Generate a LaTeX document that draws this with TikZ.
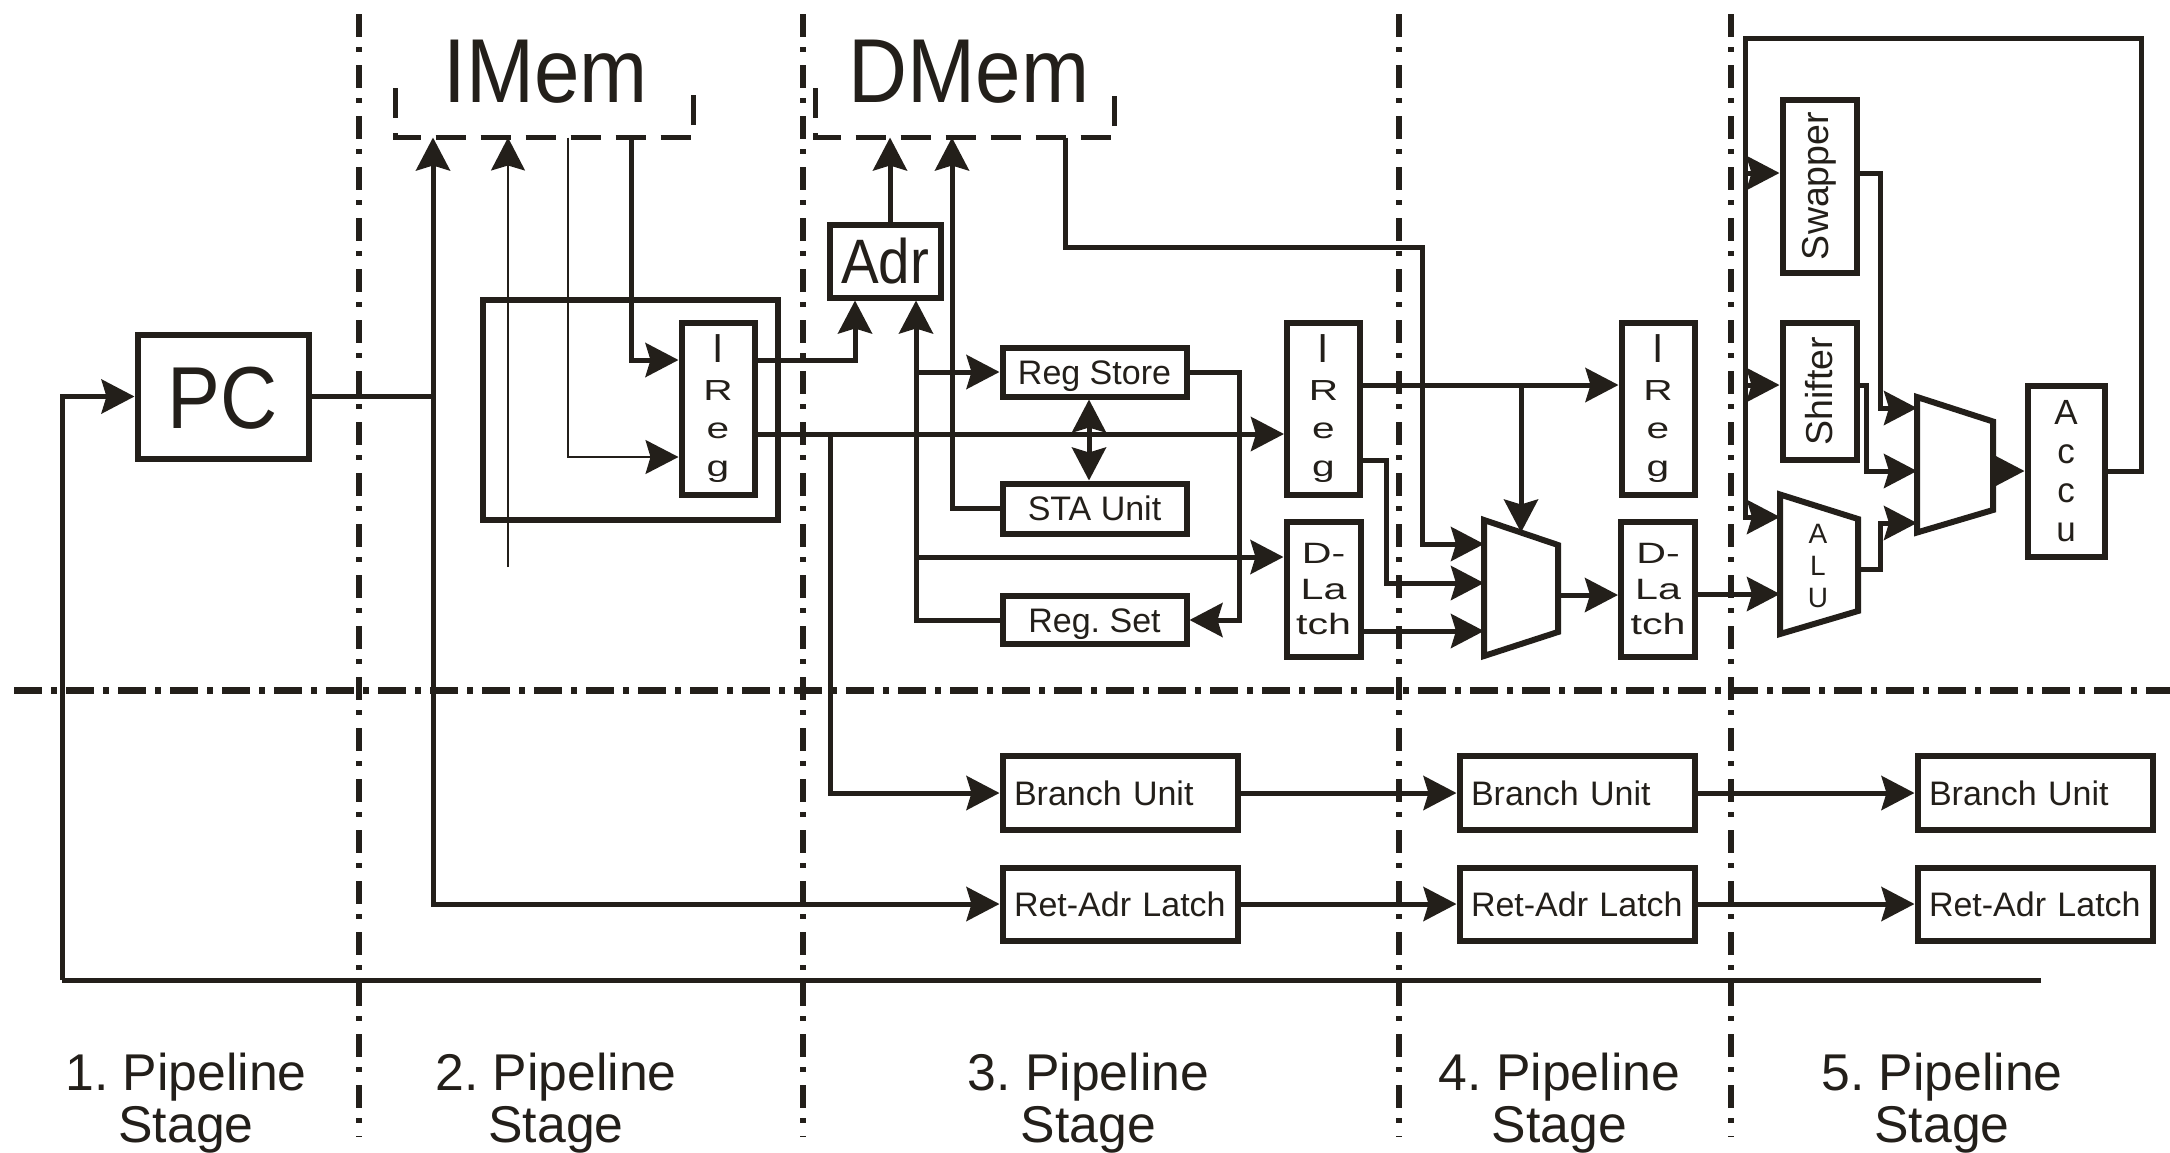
\documentclass[tikz,border=0pt]{standalone}
\usepackage{fontspec}
\usepackage{graphicx}
\setmainfont{Liberation Sans}
\newfontfamily\condfont{Liberation Sans}[FakeStretch=0.9]
\newfontfamily\widefont{Liberation Sans}[FakeStretch=1.4]
\usetikzlibrary{arrows.meta}
\definecolor{ink}{RGB}{35,31,26}
\frenchspacing
\begin{document}
\begin{tikzpicture}[x=0.5pt,y=-0.5pt,
  every node/.append style={text=ink},
  box/.style={draw=ink, line width=3pt, inner sep=0pt},
  wire/.style={draw=ink, line width=2.5pt},
  thinwire/.style={draw=ink, line width=1.1pt},
  arr/.style={-{Stealth[length=16.5pt,width=17pt,inset=2.5pt]}},
  darr/.style={{Stealth[length=16.5pt,width=17pt,inset=2.5pt]}-{Stealth[length=16.5pt,width=17pt,inset=2.5pt]}},
  sepline/.style={draw=ink, line width=3pt, dash pattern=on 11.5pt off 5pt on 2.5pt off 6.5pt},
  hsepline/.style={draw=ink, line width=3.5pt, dash pattern=on 14pt off 4.5pt on 3pt off 4.5pt},
  memline/.style={draw=ink, line width=2.5pt, dash pattern=on 15pt off 7.5pt},
  muxshape/.style={draw=ink, line width=3pt, line join=miter},
  memarea/.style={inner sep=0pt, outer sep=0pt, minimum width=149pt, minimum height=24.75pt},
  memtxt/.style={font=\condfont\fontsize{45.4}{50}\selectfont, inner sep=0pt, anchor=base},
  smalltxt/.style={font=\fontsize{17}{20}\selectfont, text height=12.2pt, text depth=0pt},
  unitbox/.style={box, smalltxt, minimum width=117.5pt, text width=106pt, align=left, inner xsep=5.75pt},
  iregbox/.style={box, minimum width=36.5pt, minimum height=86pt, align=center, font=\widefont\fontsize{14.5}{19}\selectfont},
  dlbox/.style={box, minimum width=37pt, minimum height=67.5pt, align=center, font=\widefont\fontsize{14.7}{17.75}\selectfont},
  rotbox/.style={box, minimum width=37pt, font=\fontsize{18.75}{20}\selectfont},
  stagelbl/.style={font=\fontsize{25.85}{26.35}\selectfont, align=center, inner sep=0pt, anchor=base}
]
\useasboundingbox (0,0) rectangle (2170,1152);

% ---- stage separators
\coordinate (s1a) at (359,14);  \coordinate (s1b) at (359,1137);
\coordinate (s2a) at (803,14);  \coordinate (s2b) at (803,1137);
\coordinate (s3a) at (1399,14); \coordinate (s3b) at (1399,1137);
\coordinate (s4a) at (1731,14); \coordinate (s4b) at (1731,1137);
\coordinate (hla) at (14,690);  \coordinate (hlb) at (2170,690);
\draw[sepline] (s1a) -- (s1b);
\draw[sepline] (s2a) -- (s2b);
\draw[sepline] (s3a) -- (s3b);
\draw[sepline] (s4a) -- (s4b);
\draw[hsepline] (hla) -- (hlb);

% ---- memories
\node[memarea] (imem) at (544,112.75) {};
\node[memarea, minimum width=149.5pt] (dmem) at (964.5,112.75) {};
\draw[memline] (imem.north west) -- (imem.south west) -- (imem.south east) -- (imem.north east);
\draw[memline] (dmem.north west) -- (dmem.south west) -- (dmem.south east) -- (dmem.north east);
\node[memtxt] (imemlbl) at (545.5,102) {IMem};
\node[memtxt] (dmemlbl) at (969,102) {DMem};

% ---- boxes
\node[box, minimum width=85.5pt, minimum height=62pt, font=\condfont\fontsize{44}{48}\selectfont, text height=31.5pt, text depth=0pt] (pc) at (223,396.5) {PC};
\node[box, minimum width=147.5pt, minimum height=110pt] (ifbox) at (630,409.5) {};
\node[iregbox] (ireg1) at (718,408.5) {\scalebox{1}[1.4]{I}\\R\\e\\g};
\node[box, minimum width=55.5pt, minimum height=36.5pt, font=\condfont\fontsize{31.4}{34}\selectfont, text height=22.5pt, text depth=0pt] (adr) at (885,261) {Adr};
\node[box, smalltxt, minimum width=92pt, minimum height=24.5pt] (regstore) at (1094.5,372) {Reg Store};
\node[box, smalltxt, minimum width=92pt, minimum height=25pt] (sta) at (1094.5,508.5) {STA Unit};
\node[box, smalltxt, minimum width=92pt, minimum height=24pt] (regset) at (1094.5,620) {Reg. Set};
\node[iregbox] (ireg2) at (1323.5,408.5) {\scalebox{1}[1.4]{I}\\R\\e\\g};
\node[dlbox] (dl1) at (1323.5,589.3) {D-\\La\\tch};
\node[iregbox] (ireg3) at (1658,408.5) {\scalebox{1}[1.4]{I}\\R\\e\\g};
\node[dlbox] (dl2) at (1658,589.3) {D-\\La\\tch};
\node[rotbox, minimum height=86.5pt] (swapper) at (1819.5,186) {\rotatebox{90}{Swapper}};
\node[rotbox, minimum height=68.5pt] (shifter) at (1819.5,391) {\rotatebox{90}{Shifter}};
\node[box, minimum width=38.5pt, minimum height=85.5pt, align=center, font=\fontsize{17.5}{19.5}\selectfont] (accu) at (2066,471) {A\\c\\c\\u};

\node[unitbox, minimum height=37pt] (bu1) at (1120,793) {Branch Unit};
\node[unitbox, minimum height=37pt] (bu2) at (1577,793) {Branch Unit};
\node[unitbox, minimum height=37pt] (bu3) at (2035,793) {Branch Unit};
\node[unitbox, minimum height=36.5pt] (ra1) at (1120,904) {Ret-Adr Latch};
\node[unitbox, minimum height=36.5pt] (ra2) at (1577,904) {Ret-Adr Latch};
\node[unitbox, minimum height=36.5pt] (ra3) at (2035,904) {Ret-Adr Latch};

% ---- multiplexers and ALU
\coordinate (m1tl) at (1484,520);  \coordinate (m1bl) at (1484,656);
\coordinate (m1tr) at (1558,545);  \coordinate (m1br) at (1558,632);
\coordinate (m1a) at (1484,544);   \coordinate (m1b) at (1484,583);
\coordinate (m1c) at (1484,631);   \coordinate (m1top) at (1521,532.5);
\coordinate (m1out) at (1558,595);
\draw[muxshape] (m1tl) -- (m1tr) -- (m1br) -- (m1bl) -- cycle;

\coordinate (alutl) at (1780,494.5); \coordinate (alubl) at (1780,634);
\coordinate (alutr) at (1858,519);   \coordinate (alubr) at (1858,611);
\coordinate (alua) at (1780,517);    \coordinate (alub) at (1780,594);
\coordinate (aluout) at (1858,569);
\draw[muxshape] (alutl) -- (alutr) -- (alubr) -- (alubl) -- cycle;
\node[font=\fontsize{14}{16}\selectfont, align=center, inner sep=0pt] (alulbl) at (1818,566) {A\\L\\U};

\coordinate (m2tl) at (1917,397);  \coordinate (m2bl) at (1917,532.5);
\coordinate (m2tr) at (1993,421.5); \coordinate (m2br) at (1993,510);
\coordinate (m2a) at (1917,408);   \coordinate (m2b) at (1917,471);
\coordinate (m2c) at (1917,523);   \coordinate (m2out) at (1993,471);
\draw[muxshape] (m2tl) -- (m2tr) -- (m2br) -- (m2bl) -- cycle;

% ---- junctions
\coordinate (j1) at (433,396.5);
\coordinate (thinA) at (508,567);
\coordinate (imB) at (568,137.5);
\coordinate (imC) at (631,137.5);
\coordinate (j2) at (830,434);
\coordinate (j3a) at (916,372);
\coordinate (j3b) at (916,557);
\coordinate (dmC) at (1065,137.5);
\coordinate (j4) at (1521,385);
\coordinate (fbL) at (62,980);
\coordinate (fbR) at (2041,980);
\coordinate (lpA) at (1745,173);
\coordinate (lpB) at (1745,385);

% ---- connectors
\draw[wire] (fbR) -- (fbL);
\draw[wire,arr] (fbL) |- (pc.west);
\draw[wire] (pc.east) -- (j1);
\draw[wire,arr] (j1) -- (j1 |- imem.south);
\draw[wire,arr] (j1) |- (ra1.west);
\draw[thinwire,arr] (thinA) -- (thinA |- imem.south);
\draw[thinwire,arr] (imB) |- (ireg1.west |- 0,457);
\draw[wire,arr] (imC) |- (ireg1.west |- 0,360);
\draw[wire,arr] (ireg1.east |- 0,360) -| (855,0 |- adr.south);
\draw[wire,arr] (ireg1.east |- 0,434) -- (ireg2.west |- 0,434);
\draw[wire,arr] (j2) |- (bu1.west);
\draw[wire,arr] (890,0 |- adr.north) -- (890,0 |- dmem.south);
\draw[wire,arr] (regset.west) -| (916,0 |- adr.south);
\draw[wire,arr] (j3a) -- (regstore.west);
\draw[wire,arr] (j3b) -- (dl1.west |- j3b);
\draw[wire,arr] (sta.west) -| (952,0 |- dmem.south);
\draw[wire,arr] (regstore.east) -| (1239,0 |- regset.east) -- (regset.east);
\draw[wire,darr] (regstore.south -| 1089,0) -- (sta.north -| 1089,0);
\draw[wire,arr] (dmC) |- (1422,247) |- (m1a);
\draw[wire,arr] (ireg2.east |- j4) -- (ireg3.west |- j4);
\draw[wire,arr] (j4) -- (m1top);
\draw[wire,arr] (ireg2.east |- 0,460) -| (1386,0 |- m1b) -- (m1b);
\draw[wire,arr] (dl1.east |- m1c) -- (m1c);
\draw[wire,arr] (m1out) -- (dl2.west |- m1out);
\draw[wire,arr] (dl2.east |- alub) -- (alub);
\draw[wire,arr] (aluout) -| (1880,0 |- m2c) -- (m2c);
\draw[wire,arr] (swapper.east |- lpA) -| (1880,0 |- m2a) -- (m2a);
\draw[wire,arr] (shifter.east |- lpB) -| (1866.7,0 |- m2b) -- (m2b);
\draw[wire,arr] (m2out) -- (accu.west |- m2out);
\draw[wire,arr] (accu.east) -| (2141,38) -| (1745,0 |- alua) -- (alua);
\draw[wire,arr] (lpA) -- (swapper.west |- lpA);
\draw[wire,arr] (lpB) -- (shifter.west |- lpB);
\draw[wire,arr] (bu1.east) -- (bu2.west);
\draw[wire,arr] (bu2.east) -- (bu3.west);
\draw[wire,arr] (ra1.east) -- (ra2.west);
\draw[wire,arr] (ra2.east) -- (ra3.west);

% ---- stage labels (base = baseline of the last line)
\node[stagelbl] (st1) at (186,1142.7) {1. Pipeline\\Stage};
\node[stagelbl] (st2) at (556,1142.7) {2. Pipeline\\Stage};
\node[stagelbl] (st3) at (1088.5,1142.7) {3. Pipeline\\Stage};
\node[stagelbl] (st4) at (1559.5,1142.7) {4. Pipeline\\Stage};
\node[stagelbl] (st5) at (1942,1142.7) {5. Pipeline\\Stage};
\end{tikzpicture}
\end{document}
